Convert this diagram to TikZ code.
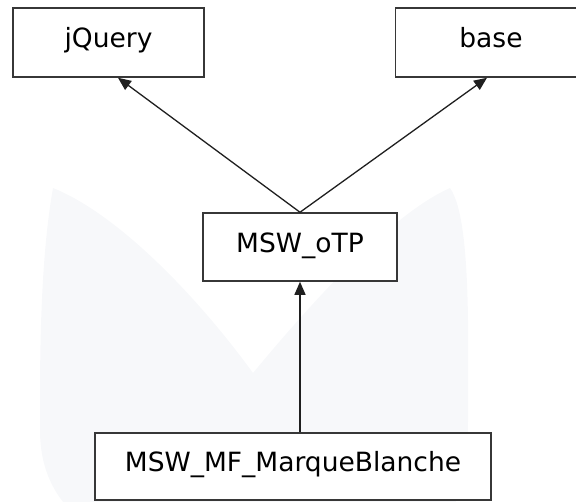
\documentclass[tikz,border=0pt]{standalone}
\usepackage{fontspec}
\setmainfont{DejaVu Sans}
\usetikzlibrary{arrows.meta}
\definecolor{wmgray}{RGB}{247,248,250}
\definecolor{boxline}{RGB}{55,55,55}
\begin{document}
\begin{tikzpicture}[x=1pt,y=-1pt,
  cls/.style={draw=boxline, line width=1.5pt, fill=white, inner sep=0pt,
    text height=20pt, text depth=10pt, font=\fontsize{26.5}{30}\selectfont},
  inh/.style={draw=black!88, line width=1.3pt, -{Triangle[length=13pt,width=11pt]}}]
\useasboundingbox (0,0) rectangle (576,501);
\clip (0,0) rectangle (576,501);
% watermark
\fill[wmgray] (53,188) .. controls (42,250) and (40,330) .. (40,400)
  -- (40,430) .. controls (40,470) and (55,495) .. (72,512)
  -- (450,512) .. controls (465,490) and (468,460) .. (468,420)
  -- (468,320) .. controls (467,250) and (462,205) .. (450,188)
  .. controls (400,210) and (330,280) .. (253,373)
  .. controls (200,300) and (120,215) .. (53,188) -- cycle;
% classes
\node[cls, minimum width=191pt, minimum height=69pt] (jq) at (108.5,42.5) {jQuery};
\node[cls, minimum width=191pt, minimum height=69pt] (base) at (491,42.5) {base};
\node[cls, minimum width=194pt, minimum height=68pt] (otp) at (300,247) {MSW\_oTP};
\node[cls, minimum width=396pt, minimum height=67pt] (mf) at (293,466.5) {MSW\_MF\_MarqueBlanche};
% inheritance
\draw[inh] (otp.north) -- ([xshift=9.5pt]jq.south);
\draw[inh] (otp.north) -- ([xshift=-4pt]base.south);
\draw[inh] ([xshift=7pt]mf.north) -- (otp.south);
\end{tikzpicture}
\end{document}
